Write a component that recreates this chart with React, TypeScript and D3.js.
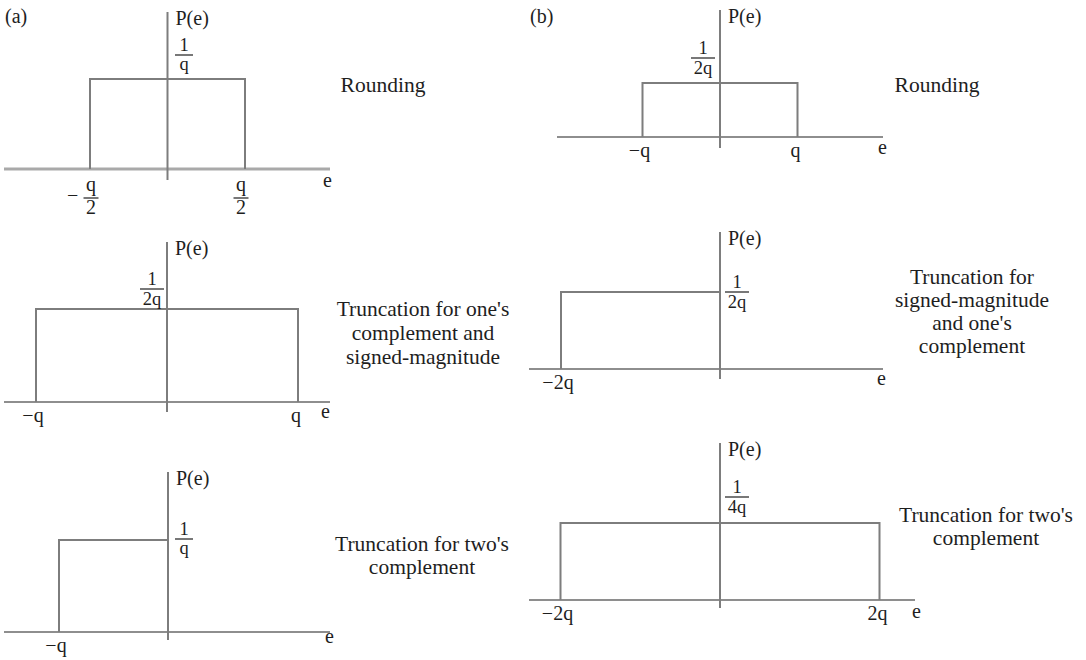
import React from "react";
import * as d3 from "d3";

// ---- data (in units of q for e, 1/q for P(e)) ----
const panelIds = ["a1", "a2", "a3", "b1", "b2", "b3"];
const lowerBounds = [-0.5, -1, -1, -1, -2, -2];
const upperBounds = [0.5, 1, 0, 1, 0, 2];
const densities = [1, 0.5, 1, 0.5, 0.5, 0.25];
const densityNum = ["1", "1", "1", "1", "1", "1"];
const densityDen = ["q", "2q", "q", "2q", "2q", "4q"];
const lowerTickLabels = ["q/2", "−q", "−q", "−q", "−2q", "−2q"];
const upperTickLabels = ["q/2", "q", "", "q", "", "2q"];
const captions = [
  ["Rounding"],
  ["Truncation for one's", "complement and", "signed-magnitude"],
  ["Truncation for two's", "complement"],
  ["Rounding"],
  ["Truncation for", "signed-magnitude", "and one's", "complement"],
  ["Truncation for two's", "complement"],
];
const panelTags = ["(a)", "(b)"];

// ---- layout (pixels) ----
const layout = [
  { x0: 167.5, ppq: 155, yZero: 169, yTop: 79, axL: 4, axR: 330, vTop: 12, vBot: 180, fx: 184, fBar: 55, fW: 18, eX: 323, eY: 187, capX: 383, capY: 92, capDy: 24, axW: 3.2, axC: "#a9a9a9" },
  { x0: 167, ppq: 131, yZero: 402, yTop: 309, axL: 4, axR: 330, vTop: 242, vBot: 412, fx: 152, fBar: 289, fW: 24, eX: 321, eY: 418, capX: 423, capY: 316, capDy: 24, axW: 2.2, axC: "#8e8e8e" },
  { x0: 168, ppq: 109, yZero: 632, yTop: 540, axL: 4, axR: 330, vTop: 472, vBot: 640, fx: 184, fBar: 539, fW: 18, eX: 325, eY: 643, capX: 422, capY: 551, capDy: 23, axW: 2.2, axC: "#8e8e8e" },
  { x0: 720, ppq: 77.5, yZero: 137, yTop: 83, axL: 557, axR: 883, vTop: 10, vBot: 148, fx: 703, fBar: 58, fW: 24, eX: 878, eY: 154, capX: 937, capY: 92, capDy: 24, axW: 2.2, axC: "#8e8e8e" },
  { x0: 720, ppq: 79.5, yZero: 369, yTop: 292, axL: 529, axR: 883, vTop: 232, vBot: 379, fx: 737, fBar: 292, fW: 24, eX: 877, eY: 385, capX: 972, capY: 284, capDy: 23, axW: 2.2, axC: "#8e8e8e" },
  { x0: 720, ppq: 79.75, yZero: 600, yTop: 523, axL: 529, axR: 915, vTop: 443, vBot: 608, fx: 737, fBar: 497, fW: 24, eX: 912, eY: 618, capX: 986, capY: 522, capDy: 23, axW: 2.2, axC: "#8e8e8e" },
];
const tagPos = [
  { x: 5, y: 23 },
  { x: 530, y: 23 },
];

const FONT = "'Liberation Serif', 'Times New Roman', serif";
const TXT = "#1e1e1e";
const LINE = "#7d7d7d";

function Fraction({ x, bar, num, den, w, size = 20 }: { x: number; bar: number; num: string; den: string; w: number; size?: number }) {
  const numBase = /^\d/.test(num) ? bar - 4 : bar - 7;
  const denBase = /^\d/.test(den) ? bar + 16 : bar + 15;
  return (
    <g fontFamily={FONT} fontSize={size} fill={TXT} textAnchor="middle">
      <line x1={x - w / 2} x2={x + w / 2} y1={bar} y2={bar} stroke={TXT} strokeWidth={1.2} />
      <text x={x} y={numBase}>{num}</text>
      <text x={x} y={denBase}>{den}</text>
    </g>
  );
}

function Panel({ i }: { i: number }) {
  const L = layout[i];
  const x = d3.scaleLinear().domain([-1, 1]).range([L.x0 - L.ppq, L.x0 + L.ppq]);
  const y = d3.scaleLinear().domain([0, densities[i]]).range([L.yZero, L.yTop]);
  const lo = lowerBounds[i];
  const hi = upperBounds[i];
  const pts: [number, number][] = [
    [lo, 0],
    [lo, densities[i]],
    [hi, densities[i]],
    [hi, 0],
  ];
  const line = d3
    .line<[number, number]>()
    .x((d) => x(d[0]))
    .y((d) => y(d[1]));
  const tickY = L.yZero + 20;
  const isFracTick = lowerTickLabels[i].includes("/");
  return (
    <g>
      <line x1={L.axL} x2={L.axR} y1={y(0)} y2={y(0)} stroke={L.axC} strokeWidth={L.axW} />
      <line x1={x(0)} x2={x(0)} y1={L.vTop} y2={L.vBot} stroke={LINE} strokeWidth={2} />
      <path d={line(pts) || ""} fill="none" stroke={LINE} strokeWidth={2} />
      <text x={x(0) + 8} y={L.vTop + 13} fontFamily={FONT} fontSize={20} fill={TXT}>
        P(e)
      </text>
      <Fraction x={L.fx} bar={L.fBar} num={densityNum[i]} den={densityDen[i]} w={L.fW} size={18.5} />
      <text x={L.eX} y={L.eY} fontFamily={FONT} fontSize={20} fill={TXT}>
        e
      </text>
      {isFracTick ? (
        <g>
          <text x={x(lo) - 23} y={L.yZero + 33} fontFamily={FONT} fontSize={20} fill={TXT}>
            −
          </text>
          <Fraction x={x(lo) + 1} bar={L.yZero + 29} num={lowerTickLabels[i].split("/")[0]} den={lowerTickLabels[i].split("/")[1]} w={15} />
          <Fraction x={x(hi) - 4} bar={L.yZero + 29} num={upperTickLabels[i].split("/")[0]} den={upperTickLabels[i].split("/")[1]} w={15} />
        </g>
      ) : (
        <g fontFamily={FONT} fontSize={20} fill={TXT} textAnchor="middle">
          <text x={x(lo) - 3} y={tickY}>{lowerTickLabels[i]}</text>
          {upperTickLabels[i] ? <text x={x(hi) - 2} y={tickY}>{upperTickLabels[i]}</text> : null}
        </g>
      )}
      <g fontFamily={FONT} fontSize={21.5} fill={TXT} textAnchor="middle">
        {captions[i].map((c, k) => (
          <text key={k} x={L.capX} y={L.capY + k * L.capDy}>
            {c}
          </text>
        ))}
      </g>
    </g>
  );
}

export default function App() {
  return (
    <svg
      width={1086}
      height={660}
      viewBox="0 0 1086 660"
      style={{ position: "absolute", left: 0, top: 0, background: "#fff" }}
    >
      <rect width={1086} height={660} fill="#fff" />
      {panelTags.map((t, k) => (
        <text key={t} x={tagPos[k].x} y={tagPos[k].y} fontFamily={FONT} fontSize={20} fill={TXT}>
          {t}
        </text>
      ))}
      {panelIds.map((id, i) => (
        <Panel key={id} i={i} />
      ))}
    </svg>
  );
}
